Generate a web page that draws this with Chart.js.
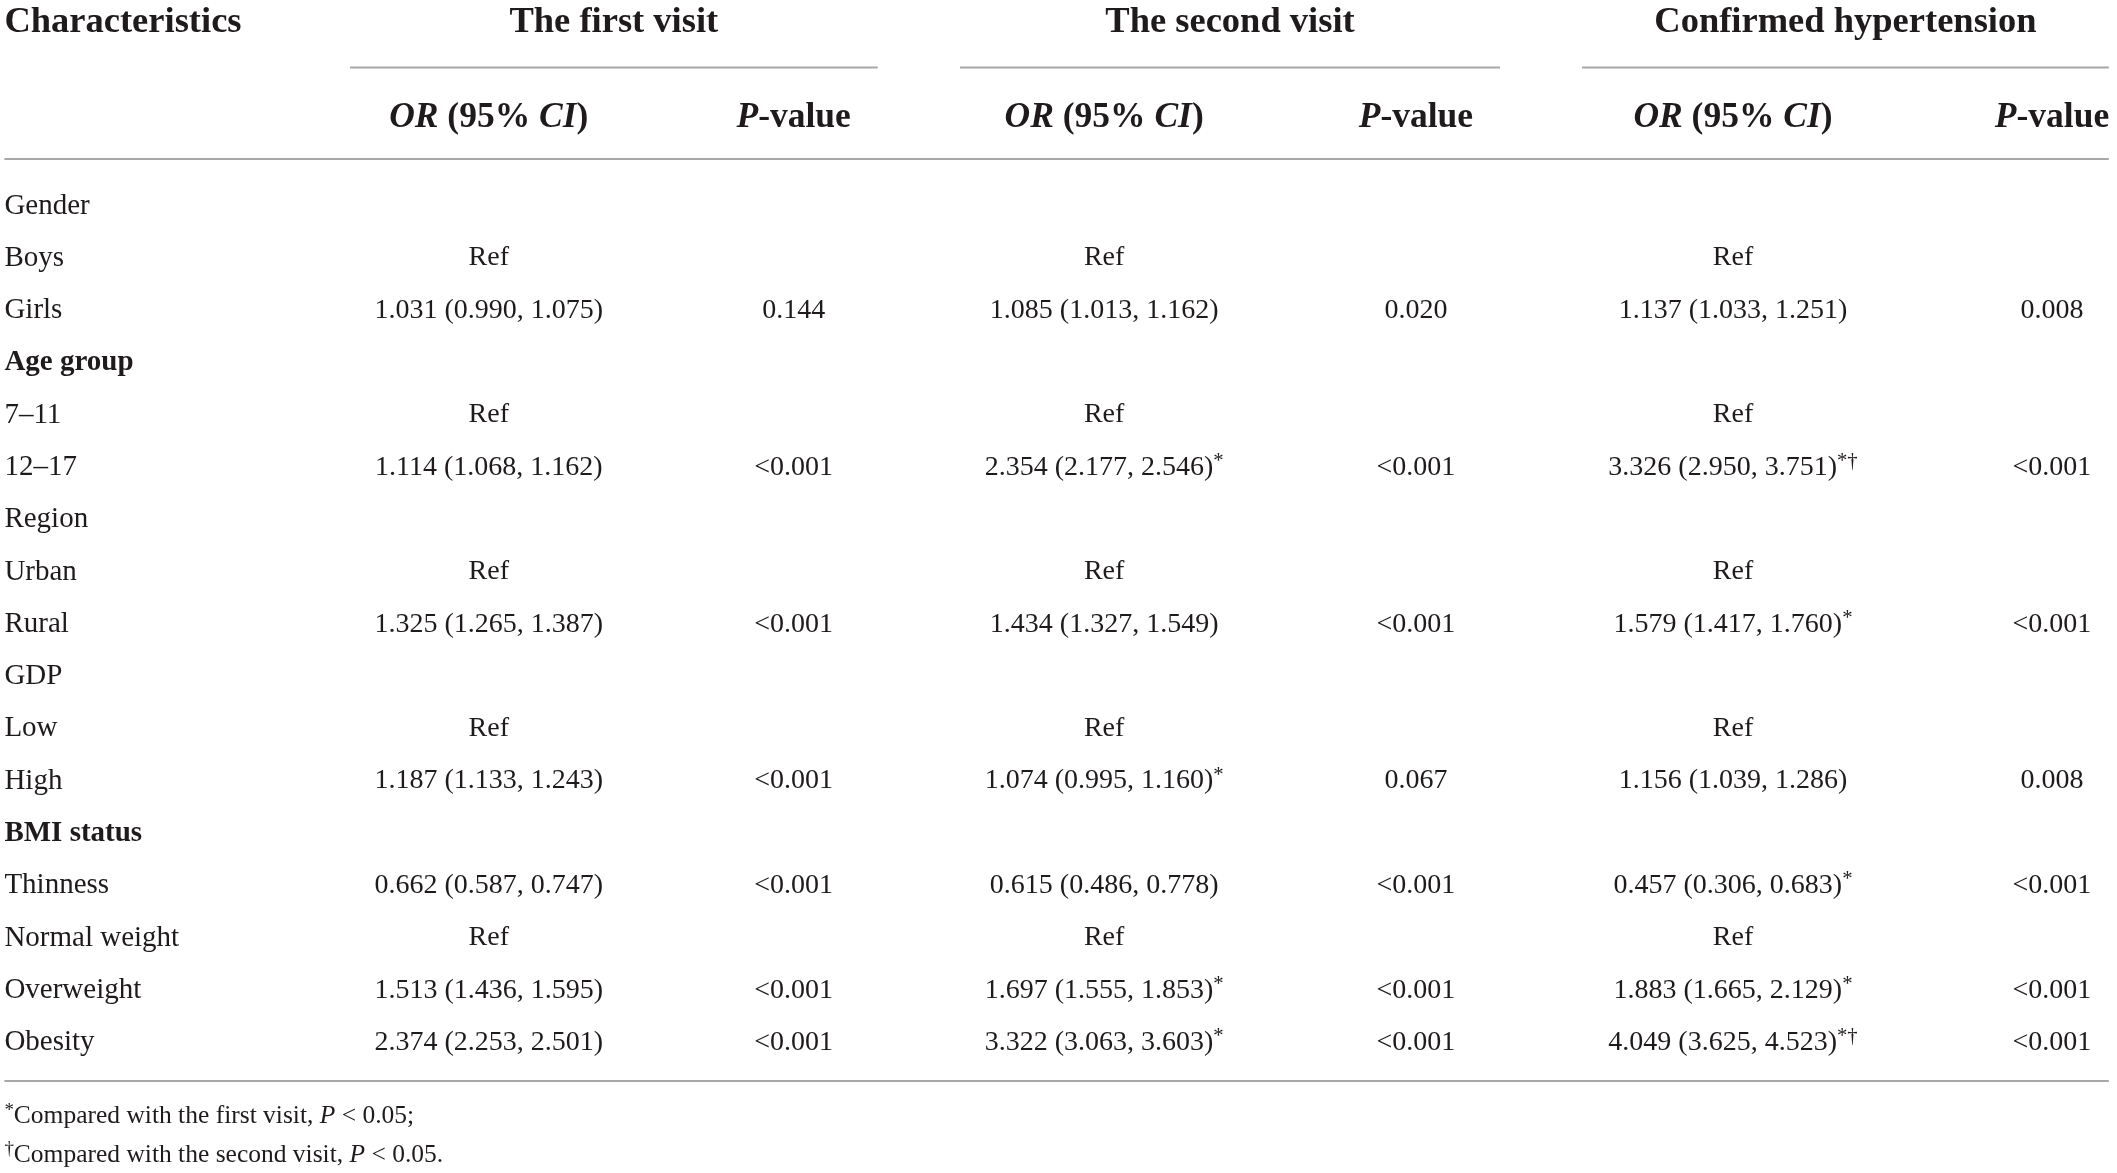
<!DOCTYPE html>
<html>
<head>
<meta charset="utf-8">
<title>OR table</title>
<script src="https://cdn.jsdelivr.net/npm/chart.js@4.4.1/dist/chart.umd.min.js"></script>
<style>
  html, body { margin: 0; padding: 0; background: #fff; }
  canvas { display: block; }
</style>
</head>
<body>
<canvas id="table" width="2117" height="1173"></canvas>
<script>
// table content ( _x_ = italic, ^x^ = superscript )
const characteristics = ["Gender", "Boys", "Girls", "Age group", "7–11", "12–17", "Region", "Urban", "Rural",
  "GDP", "Low", "High", "BMI status", "Thinness", "Normal weight", "Overweight", "Obesity"];
const boldRows = ["Age group", "BMI status"];

const groups = ["The first visit", "The second visit", "Confirmed hypertension"];
const subHeaders = ["_OR_ (95% _CI_)", "_P_-value"];

const firstVisitOR = ["", "Ref", "1.031 (0.990, 1.075)", "", "Ref", "1.114 (1.068, 1.162)", "", "Ref",
  "1.325 (1.265, 1.387)", "", "Ref", "1.187 (1.133, 1.243)", "", "0.662 (0.587, 0.747)", "Ref",
  "1.513 (1.436, 1.595)", "2.374 (2.253, 2.501)"];
const firstVisitP = ["", "", "0.144", "", "", "<0.001", "", "", "<0.001", "", "", "<0.001", "", "<0.001", "",
  "<0.001", "<0.001"];

const secondVisitOR = ["", "Ref", "1.085 (1.013, 1.162)", "", "Ref", "2.354 (2.177, 2.546)^*^", "", "Ref",
  "1.434 (1.327, 1.549)", "", "Ref", "1.074 (0.995, 1.160)^*^", "", "0.615 (0.486, 0.778)", "Ref",
  "1.697 (1.555, 1.853)^*^", "3.322 (3.063, 3.603)^*^"];
const secondVisitP = ["", "", "0.020", "", "", "<0.001", "", "", "<0.001", "", "", "0.067", "", "<0.001", "",
  "<0.001", "<0.001"];

const confirmedOR = ["", "Ref", "1.137 (1.033, 1.251)", "", "Ref", "3.326 (2.950, 3.751)^*†^", "", "Ref",
  "1.579 (1.417, 1.760)^*^", "", "Ref", "1.156 (1.039, 1.286)", "", "0.457 (0.306, 0.683)^*^", "Ref",
  "1.883 (1.665, 2.129)^*^", "4.049 (3.625, 4.523)^*†^"];
const confirmedP = ["", "", "0.008", "", "", "<0.001", "", "", "<0.001", "", "", "0.008", "", "<0.001", "",
  "<0.001", "<0.001"];

const footnotes = ["^*^Compared with the first visit, _P_ < 0.05;", "^†^Compared with the second visit, _P_ < 0.05."];

// layout, in column / row units of the two scales
const LABEL_X = -0.53;
const colX = [1.019, 1.994, 2.987, 3.984, 4.998, 6.018];
const HEAD1_Y = -3.52, HEAD2_Y = -1.70;
const GROUP_RULE_Y = -2.61, HEAD_RULE_Y = -0.86, BOTTOM_RULE_Y = 16.77;
const NOTE_Y = [17.42, 18.15];
const groupSpans = [[0.575, 2.263], [2.526, 4.253], [4.515, 6.20]];
const FULL_SPAN = [-0.53, 6.20];

const FONT = '"Liberation Serif", "DejaVu Serif", serif';
const TEXT = "#1f1b1c";
const RULE = "#a8a8a8";
const styles = {
  head:  { size: 36.5, bold: true,  align: "center" },
  headL: { size: 36.5, bold: true,  align: "left" },
  sub:   { size: 35.5, bold: true,  align: "center" },
  body:  { size: 28, bold: false, align: "center" },
  label: { size: 29, bold: false, align: "left" },
  labelB:{ size: 29, bold: true,  align: "left" },
  note:  { size: 25.5, bold: false, align: "left" }
};

const cells = [];
cells.push({ x: LABEL_X, y: HEAD1_Y, text: "Characteristics", kind: "headL" });
groups.forEach((g, i) => {
  cells.push({ x: (groupSpans[i][0] + groupSpans[i][1]) / 2, y: HEAD1_Y, text: g, kind: "head" });
  cells.push({ x: colX[2 * i], y: HEAD2_Y, text: subHeaders[0], kind: "sub" });
  cells.push({ x: colX[2 * i + 1], y: HEAD2_Y, text: subHeaders[1], kind: "sub" });
});
characteristics.forEach((c, r) => {
  cells.push({ x: LABEL_X, y: r, text: c, kind: boldRows.includes(c) ? "labelB" : "label" });
});
[firstVisitOR, firstVisitP, secondVisitOR, secondVisitP, confirmedOR, confirmedP].forEach((col, ci) => {
  col.forEach((v, r) => {
    if (v) cells.push({ x: colX[ci], y: r, text: v, kind: "body" });
  });
});
footnotes.forEach((f, i) => cells.push({ x: LABEL_X, y: NOTE_Y[i], text: f, kind: "note" }));

function rule(span, y) {
  return {
    data: [{ x: span[0], y: y }, { x: span[1], y: y }],
    showLine: true, borderColor: RULE, borderWidth: 2, pointRadius: 0, fill: false
  };
}

function parse(text) {
  const segs = [];
  let cur = "", italic = false, sup = false;
  for (const ch of text) {
    if (ch === "_" || ch === "^") {
      if (cur) segs.push({ t: cur, italic, sup });
      cur = "";
      if (ch === "_") italic = !italic; else sup = !sup;
    } else cur += ch;
  }
  if (cur) segs.push({ t: cur, italic, sup });
  return segs;
}

function drawRich(ctx, text, x, y, st) {
  const segs = parse(text);
  const fontOf = s => (s.italic ? "italic " : "") + (st.bold ? "bold " : "") +
    (s.sup ? st.size * 0.74 : st.size) + "px " + FONT;
  let total = 0;
  segs.forEach(s => { ctx.font = fontOf(s); s.w = ctx.measureText(s.t).width; total += s.w; });
  let cx = st.align === "center" ? x - total / 2 : x;
  const base = y + st.size * 0.33;
  segs.forEach(s => {
    ctx.font = fontOf(s);
    ctx.fillText(s.t, cx, s.sup ? base - st.size * 0.28 : base);
    cx += s.w;
  });
}

const cellText = {
  id: "cellText",
  afterDatasetsDraw(chart) {
    const ctx = chart.ctx;
    const meta = chart.getDatasetMeta(0);
    ctx.save();
    ctx.fillStyle = TEXT;
    ctx.textAlign = "left";
    ctx.textBaseline = "alphabetic";
    meta.data.forEach((el, i) => {
      const d = chart.data.datasets[0].data[i];
      drawRich(ctx, d.text, el.x, el.y, styles[d.kind]);
    });
    ctx.restore();
  }
};

new Chart(document.getElementById("table"), {
  type: "scatter",
  data: {
    datasets: [
      { data: cells, pointRadius: 0, showLine: false },
      ...groupSpans.map(s => rule(s, GROUP_RULE_Y)),
      rule(FULL_SPAN, HEAD_RULE_Y),
      rule(FULL_SPAN, BOTTOM_RULE_Y)
    ]
  },
  options: {
    responsive: false,
    devicePixelRatio: 1,
    animation: false,
    events: [],
    layout: { padding: 0 },
    plugins: { legend: { display: false }, tooltip: { enabled: false } },
    scales: {
      x: { type: "linear", min: -0.544, max: 6.226, display: false },
      y: { type: "linear", min: -3.9, max: 18.53, reverse: true, display: false }
    }
  },
  plugins: [cellText]
});
</script>
</body>
</html>
